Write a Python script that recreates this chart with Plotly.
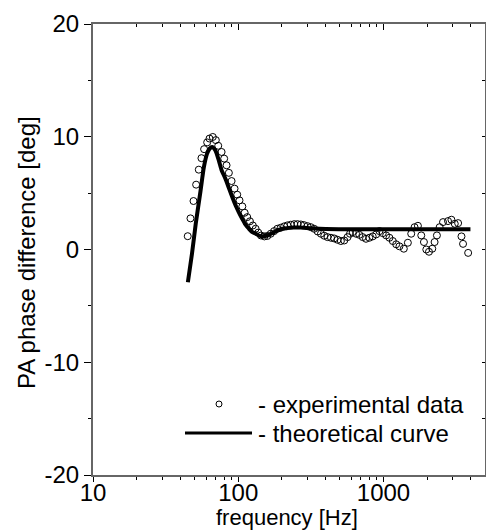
import numpy as np
import plotly.graph_objects as go

# experimental data (Hz, deg)
exp_freq = [44.9, 46.9, 49.2, 51.3, 53.5, 55.8, 58.2, 61.1, 63.4, 66.8, 70.1, 72.8, 76.8, 80.0,
            83.1, 86.2, 90.0, 94.3, 98.4, 102, 106.7, 110.7, 115.3, 120.4, 126, 131.7, 137.3,
            143.5, 151.4, 158.6, 167.4, 176.5, 186, 196, 207, 218, 230, 243, 256, 270, 284, 300,
            316, 333, 352, 371, 391, 412, 435, 458, 483, 509, 537, 566, 588, 614, 647, 682, 719,
            758, 799, 843, 891, 938, 989, 1043, 1099, 1159, 1223, 1288, 1380, 1472, 1552, 1637,
            1726, 1820, 1899, 1972, 2057, 2168, 2248, 2333, 2436, 2569, 2781, 2936, 3096, 3265,
            3443, 3530, 3828]
exp_phase = [1.18, 2.76, 4.3, 5.75, 7.08, 8.1, 8.9, 9.5, 9.84, 9.98, 9.7, 9.2, 8.65, 8.06,
             7.47, 6.8, 6.07, 5.4, 4.86, 4.36, 3.82, 3.26, 2.87, 2.5, 2.13, 1.84, 1.5,
             1.24, 1.16, 1.2, 1.4, 1.63, 1.84, 1.93, 2.05, 2.14, 2.2, 2.25, 2.25, 2.22, 2.16, 2.07,
             1.98, 1.84, 1.6, 1.4, 1.22, 1.1, 1.04, 0.98, 0.86, 0.75, 0.8, 1.1, 1.4, 1.54, 1.4, 1.3, 1.1,
             0.95, 1.04, 1.16, 1.34, 1.63, 1.45, 1.25, 1.04, 0.75, 0.46, 0.28, 0.07, 0.6, 1.4, 1.98,
             2.1, 1.25, 0.66, 0.0, -0.2, 0.07, 0.66, 1.25, 1.98, 2.43, 2.52, 2.64, 2.28, 2.34,
             1.16, 0.5, -0.3]

# theoretical curve
th_freq = [45, 48, 51, 55, 58, 61, 63.5, 66, 69.5, 73.5, 77, 81.5, 86, 91, 96, 101, 106.5, 112,
           118.5, 125, 132, 139, 147, 159, 171, 186, 201, 218, 240, 270, 320, 400, 600, 1000,
           2000, 3970]
th_phase = [-2.9, -0.4, 2.3, 5.2, 7.3, 8.5, 8.95, 9.1, 8.8, 7.9, 7.0, 6.3, 5.5, 4.65, 3.9, 3.3,
            2.73, 2.22, 1.84, 1.54, 1.4, 1.24, 1.18, 1.24, 1.45, 1.69, 1.84, 1.9, 1.95, 1.95,
            1.88, 1.82, 1.8, 1.8, 1.8, 1.8]

x_tickvals = [10, 100, 1000]
x_ticktext = ["10", "100", "1000"]
x_minor = [20, 30, 40, 50, 60, 70, 80, 90, 200, 300, 400, 500, 600, 700, 800, 900,
           2000, 3000, 4000]
y_tickvals = [-20, -10, 0, 10, 20]
y_ticktext = ["-20", "-10", "0", "10", "20"]
y_minor = [-15, -5, 5, 15]

x_title = "frequency [Hz]"
y_title = "PA phase difference [deg]"
legend_labels = ["- experimental data", "- theoretical curve"]

FONT = "Arial, Liberation Sans, sans-serif"
FS = 24
xr = [1, np.log10(5000)]
yr = [-20, 20]

fig = go.Figure()
fig.add_trace(go.Scatter(x=exp_freq, y=exp_phase, mode="markers",
                         marker=dict(symbol="circle-open", size=7, color="black",
                                     line=dict(width=1, color="black")),
                         showlegend=False))
fig.add_trace(go.Scatter(x=th_freq, y=th_phase, mode="lines",
                         line=dict(color="black", width=4, shape="spline", smoothing=0.6),
                         showlegend=False))

axcol = "#666666"
fig.update_layout(
    width=486, height=531,
    margin=dict(l=93, r=1, t=24, b=56),
    paper_bgcolor="white", plot_bgcolor="white",
    font=dict(family=FONT, size=FS, color="black"),
    xaxis=dict(type="log", range=xr, tickvals=x_tickvals, ticktext=x_ticktext,
               ticks="outside", ticklen=5, tickcolor="black", tickwidth=1,
               ticklabelstandoff=-10,
               minor=dict(tickvals=x_minor, ticks="outside", ticklen=3, tickcolor="black"),
               showline=True, linecolor=axcol, linewidth=2, showgrid=False, zeroline=False,
               automargin=False),
    yaxis=dict(range=yr, tickvals=y_tickvals, ticktext=y_ticktext, ticks="outside", ticklen=7,
               tickcolor="black", tickwidth=1,
               minor=dict(tickvals=y_minor, ticks="outside", ticklen=3, tickcolor="black"),
               showline=True, linecolor=axcol, linewidth=2, showgrid=False, zeroline=False,
               automargin=False),
    xaxis2=dict(type="log", range=xr, overlaying="x", side="top", tickvals=x_tickvals,
                showticklabels=False, ticks="inside", ticklen=6, tickcolor="black",
                minor=dict(tickvals=x_minor, ticks="inside", ticklen=3, tickcolor="black"),
                showline=True, linecolor=axcol, linewidth=2, showgrid=False, zeroline=False),
    yaxis2=dict(range=yr, overlaying="y", side="right", tickvals=y_tickvals + y_minor,
                showticklabels=False, ticks="inside", ticklen=3, tickcolor="black",
                showline=True, linecolor=axcol, linewidth=2, showgrid=False, zeroline=False),
)

# hidden trace so overlay axes render
fig.add_trace(go.Scatter(x=[None], y=[None], xaxis="x2", yaxis="y2", showlegend=False,
                         hoverinfo="skip"))


def px2paper(px, py):
    return (px - 93) / 392.0, (475 - py) / 451.0


# axis titles
tx0, ty0 = px2paper(287, 517)
fig.add_annotation(x=tx0, y=ty0, xref="paper", yref="paper", text=x_title, showarrow=False,
                   xanchor="center", yanchor="middle", font=dict(size=22))
tx1, ty1 = px2paper(26, 253)
fig.add_annotation(x=tx1, y=ty1, xref="paper", yref="paper", text=y_title, showarrow=False,
                   textangle=-90, xanchor="center", yanchor="middle", font=dict(size=FS))

# manual legend
cx, cy = px2paper(219, 404)
fig.add_shape(type="circle", xref="paper", yref="paper", xsizemode="pixel", ysizemode="pixel",
              xanchor=cx, yanchor=cy, x0=-3, x1=3, y0=-3, y1=3,
              line=dict(color="black", width=1))
lx0, ly = px2paper(185, 433)
lx1, _ = px2paper(252, 433)
fig.add_shape(type="line", xref="paper", yref="paper", x0=lx0, x1=lx1, y0=ly, y1=ly,
              line=dict(color="black", width=3))
tx, _ = px2paper(256, 0)
fig.add_annotation(x=tx, y=cy, xref="paper", yref="paper", text=legend_labels[0],
                   showarrow=False, xanchor="left", yanchor="middle", font=dict(size=FS))
fig.add_annotation(x=tx, y=ly, xref="paper", yref="paper", text=legend_labels[1],
                   showarrow=False, xanchor="left", yanchor="middle", font=dict(size=FS))

fig.write_html("out.html", config={"displayModeBar": False},
               post_script="document.body.style.margin='0';document.body.style.overflow='hidden';")
